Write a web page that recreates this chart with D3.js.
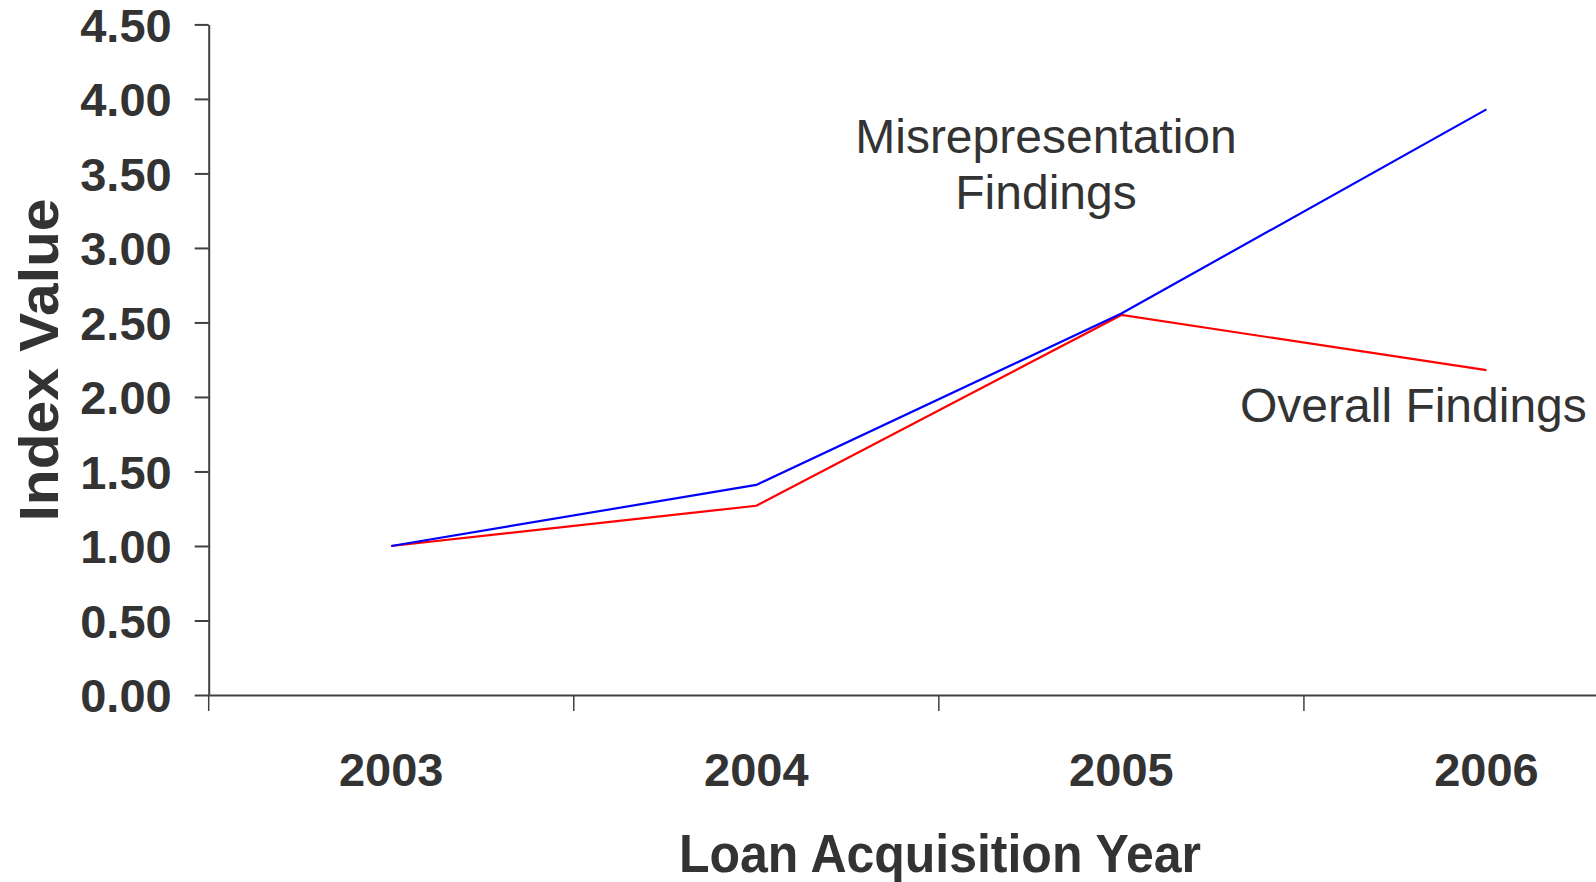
<!DOCTYPE html>
<html>
<head>
<meta charset="utf-8">
<script src="https://cdn.jsdelivr.net/npm/d3@7"></script>
<style>
  body { margin: 0; background: #fff; }
  svg { display: block; font-family: "Liberation Sans", Arial, sans-serif; }
</style>
</head>
<body>
<div id="line-chart"></div>
<script>
// loan acquisition years and index values
var years = ["2003", "2004", "2005", "2006"];
var misrepresentation = [1.00, 1.41, 2.56, 3.93];
var overall = [1.00, 1.27, 2.55, 2.18];
var yTicks = [0, 0.5, 1, 1.5, 2, 2.5, 3, 3.5, 4, 4.5];

var width = 1596, height = 882;
var textColor = "#333333";

var svg = d3.select("#line-chart").append("svg")
    .attr("width", width)
    .attr("height", height);

// band scale: ticks sit at band edges, points at band centres
var x = d3.scaleBand()
    .domain(years)
    .range([208.7, 1669])
    .paddingInner(0)
    .paddingOuter(0);
var y = d3.scaleLinear()
    .domain([0, 4.5])
    .range([695, 24.4]);

// x axis
var xAxis = svg.append("g")
    .attr("transform", "translate(0,695)")
    .call(d3.axisBottom(x).tickSizeInner(16).tickSizeOuter(0));
xAxis.select(".domain").attr("stroke", "#404040").attr("stroke-width", 2);
xAxis.selectAll(".tick line")
    .attr("stroke", "#404040")
    .attr("stroke-width", 1.5)
    .attr("transform", "translate(" + (-x.bandwidth() / 2) + ",0)");
xAxis.selectAll(".tick text")
    .attr("y", 91)
    .attr("dy", 0)
    .attr("fill", textColor)
    .style("font-size", "47px")
    .style("font-weight", "bold")
    .style("font-family", "'Liberation Sans', Arial, sans-serif");

// y axis
var yAxis = svg.append("g")
    .attr("transform", "translate(208.7,0)")
    .call(d3.axisLeft(y).tickValues(yTicks).tickFormat(d3.format(".2f"))
        .tickSizeInner(14).tickSizeOuter(0).tickPadding(23));
yAxis.select(".domain").attr("stroke", "#404040").attr("stroke-width", 2);
yAxis.selectAll(".tick line").attr("stroke", "#404040").attr("stroke-width", 2);
yAxis.selectAll(".tick text")
    .attr("fill", textColor)
    .attr("dy", "0.36em")
    .style("font-size", "47px")
    .style("font-weight", "bold")
    .style("font-family", "'Liberation Sans', Arial, sans-serif");

// lines
var line = d3.line()
    .x(function(d, i) { return x(years[i]) + x.bandwidth() / 2; })
    .y(function(d) { return y(d); });

svg.append("path")
    .datum(overall)
    .attr("fill", "none")
    .attr("stroke", "#ff0000")
    .attr("stroke-width", 2.2)
    .attr("d", line);

svg.append("path")
    .datum(misrepresentation)
    .attr("fill", "none")
    .attr("stroke", "#0000ff")
    .attr("stroke-width", 2.2)
    .attr("d", line);

// series labels
var lbl = svg.append("text")
    .attr("x", 1046)
    .attr("y", 153)
    .attr("text-anchor", "middle")
    .attr("fill", textColor)
    .style("font-size", "48px");
lbl.append("tspan").attr("x", 1046).text("Misrepresentation");
lbl.append("tspan").attr("x", 1046).attr("dy", 56).text("Findings");

svg.append("text")
    .attr("x", 1240)
    .attr("y", 422)
    .attr("fill", textColor)
    .style("font-size", "48px")
    .text("Overall Findings");

// axis titles
svg.append("text")
    .attr("x", 940)
    .attr("y", 872)
    .attr("text-anchor", "middle")
    .attr("fill", textColor)
    .attr("textLength", 522)
    .attr("lengthAdjust", "spacingAndGlyphs")
    .style("font-size", "54px")
    .style("font-weight", "bold")
    .text("Loan Acquisition Year");

svg.append("text")
    .attr("transform", "translate(58,360) rotate(-90)")
    .attr("text-anchor", "middle")
    .attr("fill", textColor)
    .attr("textLength", 323)
    .attr("lengthAdjust", "spacingAndGlyphs")
    .style("font-size", "56px")
    .style("font-weight", "bold")
    .text("Index Value");
</script>
</body>
</html>
